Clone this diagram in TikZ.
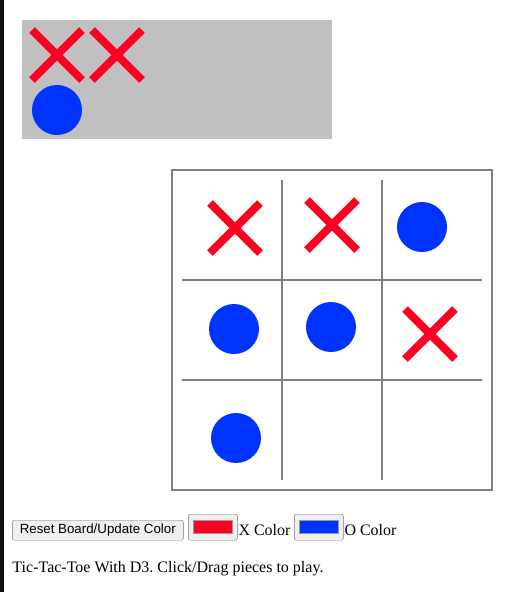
\documentclass[tikz,border=0pt]{standalone}
\usepackage{fontspec}
\setmainfont{Liberation Serif}
\setsansfont{Liberation Sans}
\frenchspacing
\definecolor{xred}{HTML}{FF0022}
\definecolor{oblue}{HTML}{0033FF}
\definecolor{tray}{HTML}{C0C0C0}
\definecolor{btnfill}{HTML}{EFEFEF}
\definecolor{btnline}{HTML}{767676}
\tikzset{
x=1pt,y=-1pt,
xspot/.style={rectangle,minimum size=50pt,inner sep=0pt,outer sep=0pt},
xstroke/.style={draw=xred,line width=8pt},
omark/.style={circle,fill=oblue,minimum size=50pt,inner sep=0pt},
gridline/.style={draw=black!50,line width=1.5pt},
button/.style={draw=btnline,fill=btnfill,rounded corners=2pt,inner sep=0pt,font=\sffamily\fontsize{13.3}{15}\selectfont},
label/.style={anchor=base west,inner sep=0pt,font=\fontsize{16}{19}\selectfont}
}
% an X piece: a named spot and its two strokes
\newcommand{\xpiece}[2]{%
  \node[xspot] (#1) at (#2) {};
  \draw[xstroke] (#1.north west) -- (#1.south east)
                 (#1.south west) -- (#1.north east);}

\begin{document}
\begin{tikzpicture}
\useasboundingbox (0,0) rectangle (520,592);
\fill[black!93] (0,0) rectangle (4,592);

% tray of spare pieces
\node[fill=tray,minimum width=310pt,minimum height=119pt,inner sep=0pt] (tray) at (177,79.5) {};
\xpiece{tx1}{57,55}
\xpiece{tx2}{117,55}
\node[omark] (to1) at (57,110) {};

% board
\node[draw=black!50,line width=2pt,minimum size=320pt,inner sep=0pt] (board) at (332,330) {};
\foreach \k in {282,382}
  \draw[gridline] (\k,180) -- (\k,480);
\foreach \k in {280,380}
  \draw[gridline] (182,\k) -- (482,\k);

\xpiece{x1}{235,228}
\xpiece{x2}{332,225}
\node[omark] (o1) at (422,227) {};
\node[omark] (o2) at (234,329) {};
\node[omark] (o3) at (331,327) {};
\xpiece{x3}{430,334}
\node[omark] (o4) at (236,438) {};

% controls
\node[button,minimum width=171pt,minimum height=20pt] (reset) at (97.8,530.2) {Reset Board/Update Color};
\node[button,minimum width=49pt,minimum height=26pt] (xpick) at (212.8,527.2) {};
\node[fill=xred,draw=black!40,line width=0.5pt,minimum width=39pt,minimum height=13pt,inner sep=0pt] (xswatch) at (xpick) {};
\node[label] (xlabel) at (238.3,535) {X Color};
\node[button,minimum width=49pt,minimum height=26pt] (opick) at (318.8,527.2) {};
\node[fill=oblue,draw=black!40,line width=0.5pt,minimum width=39pt,minimum height=13pt,inner sep=0pt] (oswatch) at (opick) {};
\node[label] (olabel) at (344.3,535) {O Color};

\node[label] (caption) at (12.3,572.7) {Tic-Tac-Toe With D3. Click/Drag pieces to play.};
\end{tikzpicture}
\end{document}
